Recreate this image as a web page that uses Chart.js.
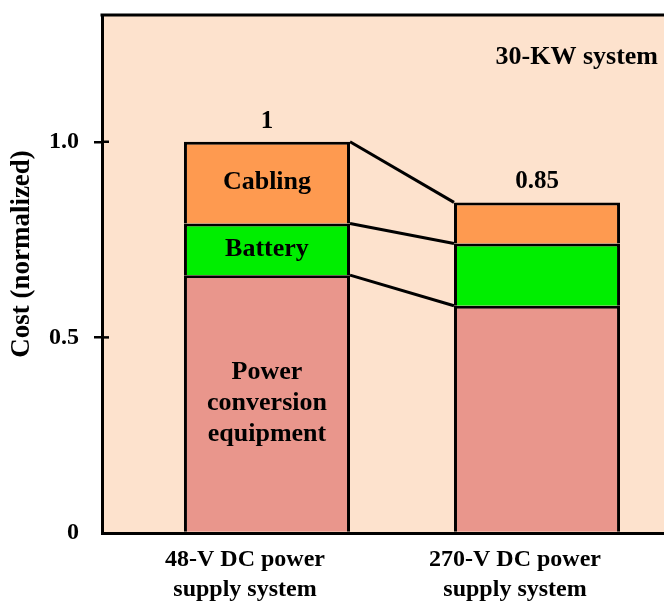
<!DOCTYPE html>
<html>
<head>
<meta charset="utf-8">
<script src="https://cdn.jsdelivr.net/npm/chart.js@4/dist/chart.umd.min.js"></script>
<style>
    html, body { margin: 0; padding: 0; background: #fff; overflow: hidden; }
    #wrap { width: 720px; height: 603px; }
</style>
</head>
<body>
<div id="wrap"><canvas id="costChart" width="720" height="603"></canvas></div>
<script>
const categories = [['48-V DC power', 'supply system'], ['270-V DC power', 'supply system']];
const powerConversion = [0.659, 0.581];
const battery = [0.132, 0.159];
const cabling = [0.209, 0.105];
const totalLabels = ['1', '0.85'];
const segmentLabels = [['Power', 'conversion', 'equipment'], ['Battery'], ['Cabling']];
const yTicks = [0, 0.5, 1.0];
const yTickLabels = ['0', '0.5', '1.0'];
const yTitle = 'Cost (normalized)';
const noteText = '30-KW system';

const PEACH = '#fde2cd';
const SERIF = "'Liberation Serif', 'Times New Roman', serif";

function toPoints(values) {
    return values.map((v, i) => ({ x: i, y: v }));
}

const decorPlugin = {
    id: 'decor',
    beforeDraw(chart) {
        const { ctx, chartArea: a } = chart;
        ctx.save();
        ctx.fillStyle = PEACH;
        ctx.fillRect(a.left, a.top, a.right - a.left, a.bottom - a.top);
        ctx.restore();
    },
    afterDatasetsDraw(chart) {
        const ctx = chart.ctx;
        ctx.save();
        ctx.strokeStyle = '#000';
        ctx.lineWidth = 3;
        // connector lines between the tops of matching segments
        chart.data.datasets.forEach((ds, d) => {
            const els = chart.getDatasetMeta(d).data;
            const a = els[0], b = els[1];
            ctx.beginPath();
            ctx.moveTo(a.x + a.width / 2, a.y);
            ctx.lineTo(b.x - b.width / 2, b.y);
            ctx.stroke();
        });

        ctx.fillStyle = '#000';
        ctx.textAlign = 'center';
        ctx.textBaseline = 'middle';
        ctx.font = 'bold 26px ' + SERIF;
        // segment names inside the first bar
        segmentLabels.forEach((lines, d) => {
            const el = chart.getDatasetMeta(d).data[0];
            const cy = (el.y + el.base) / 2;
            const lh = 31;
            lines.forEach((t, k) => {
                ctx.fillText(t, el.x, cy + (k - (lines.length - 1) / 2) * lh);
            });
        });

        // totals above each bar
        const top = chart.getDatasetMeta(chart.data.datasets.length - 1).data;
        ctx.font = 'bold 25px ' + SERIF;
        ctx.textBaseline = 'bottom';
        top.forEach((el, i) => ctx.fillText(totalLabels[i], el.x, el.y - 8));
        ctx.restore();
    },
    afterDraw(chart) {
        const { ctx, chartArea: a } = chart;
        const y = chart.scales.y;
        ctx.save();
        ctx.strokeStyle = '#000';
        ctx.lineWidth = 3;
        ctx.beginPath();
        ctx.moveTo(a.left - 1.5, a.top);
        ctx.lineTo(a.right, a.top);
        ctx.stroke();

        // inner half of the y tick marks
        ctx.lineWidth = 2.5;
        yTicks.forEach(v => {
            if (v === 0) return;
            const py = y.getPixelForValue(v);
            ctx.beginPath();
            ctx.moveTo(a.left, py);
            ctx.lineTo(a.left + 7, py);
            ctx.stroke();
        });

        ctx.fillStyle = '#000';
        ctx.font = 'bold 26px ' + SERIF;
        ctx.textAlign = 'right';
        ctx.textBaseline = 'middle';
        ctx.fillText(noteText, 658, 57);

        ctx.font = 'bold 27px ' + SERIF;
        ctx.translate(22, 254);
        ctx.rotate(-Math.PI / 2);
        ctx.textAlign = 'center';
        ctx.fillText(yTitle, 0, 0);
        ctx.restore();
    }
};

const barStyle = { borderColor: '#000', borderWidth: 3, stack: 'cost' };

new Chart(document.getElementById('costChart'), {
    type: 'bar',
    plugins: [decorPlugin],
    data: {
        datasets: [
            { label: 'Power conversion equipment', data: toPoints(powerConversion), backgroundColor: '#e9968c', ...barStyle },
            { label: 'Battery', data: toPoints(battery), backgroundColor: '#00ee00', ...barStyle },
            { label: 'Cabling', data: toPoints(cabling), backgroundColor: '#fe9a50', ...barStyle }
        ]
    },
    options: {
        responsive: false,
        animation: false,
        categoryPercentage: 0.615,
        barPercentage: 1,
        layout: { padding: { top: 15, right: 18, left: 0, bottom: 0 } },
        plugins: { legend: { display: false }, tooltip: { enabled: false } },
        scales: {
            x: {
                type: 'linear',
                min: -0.611,
                max: 1.611,
                offset: false,
                grid: { display: false, offset: false },
                border: { display: true, color: '#000', width: 3 },
                afterBuildTicks: s => { s.ticks = categories.map((c, i) => ({ value: i })); },
                afterFit: s => { s.height = 70; s.paddingLeft = 0; s.paddingRight = 0; },
                ticks: {
                    autoSkip: false,
                    maxRotation: 0,
                    padding: 4,
                    labelOffset: -22,
                    color: '#000',
                    font: { family: SERIF, size: 24, weight: 'bold', lineHeight: 1.25 },
                    callback: v => categories[v]
                }
            },
            y: {
                min: 0,
                max: 1.324,
                stacked: true,
                border: { display: true, color: '#000', width: 3 },
                grid: {
                    display: true,
                    drawOnChartArea: false,
                    drawTicks: true,
                    tickLength: 8,
                    lineWidth: 2.5,
                    color: c => (c.tick && c.tick.value === 0) ? 'rgba(0,0,0,0)' : '#000'
                },
                afterBuildTicks: s => { s.ticks = yTicks.map(v => ({ value: v })); },
                afterFit: s => { s.width = 102; s.paddingTop = 0; s.paddingBottom = 0; },
                ticks: {
                    padding: 15,
                    color: '#000',
                    font: { family: SERIF, size: 24, weight: 'bold' },
                    callback: (v, i) => yTickLabels[i]
                }
            }
        }
    }
});
</script>
</body>
</html>
